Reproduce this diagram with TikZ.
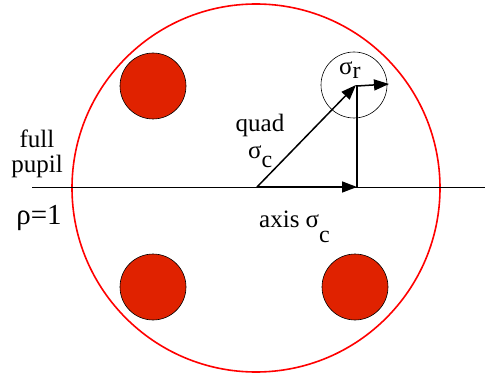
\documentclass[tikz,border=0pt]{standalone}
\usepackage{fontspec}
\setmainfont{Liberation Serif}
\newfontfamily\tms{Liberation Serif}
\usetikzlibrary{arrows.meta,positioning}

\definecolor{spotred}{HTML}{E02200}
\newcommand{\lowc}[2]{\raisebox{-#1}{\fontsize{24}{24}\selectfont #2}}

\begin{document}
\begin{tikzpicture}[
    x=1pt, y=-1pt,
    pupil/.style={circle, draw=red, line width=1.6pt, minimum size=368pt, inner sep=0pt},
    spot/.style={circle, draw=black, fill=spotred, line width=0.6pt, minimum size=66pt, inner sep=0pt},
    ring/.style={circle, draw=black, line width=0.6pt, minimum size=66pt, inner sep=0pt},
    lbl/.style={font=\tms\fontsize{25}{29}\selectfont, inner sep=0pt, align=center},
    vec/.style={line width=1.5pt, -{Triangle[length=15pt,width=11pt]}}
  ]
    \useasboundingbox (0,0) rectangle (485,377);

    % pupil and the three spots
    \node[pupil] (pupil) at (256,188) {};
    \node[spot] (spotA) at (153,86) {};
    \node[spot] (spotB) at (153,287) {};
    \node[spot] (spotC) at (355,287) {};
    \node[ring] (ring) at (354,85) {};

    % axis line
    \coordinate (lineL) at (32,187);
    \coordinate (lineR) at (485,187);
    \draw[line width=0.6pt] (lineL) -- (lineR);

    % vectors
    \coordinate (orig) at (257,187);
    \coordinate (axtip) at (357,187);
    \coordinate (qtip) at (356,85);
    \coordinate (rtip) at (389,84);
    \draw[vec] (orig) -- (axtip);
    \draw[vec] (orig) -- (qtip);
    \draw[line width=1.5pt] (axtip) -- (axtip |- qtip);
    \draw[vec] ([xshift=1pt,yshift=-1pt]qtip) -- (rtip);

    % labels
    \node[lbl] (full) at (37,154) {full\\[-4pt]pupil};
    \node[lbl, font=\tms\fontsize{29}{32}\selectfont] (rho) at (39,218) {ρ=1};
    \node[lbl] (quad) at (260,125) {quad};
    \node[lbl, anchor=base west] (sigq) at (248,159) {σ\lowc{9pt}{c}};
    \node[lbl, anchor=base west] (axis) at (259,227) {axis σ\lowc{15pt}{c}};
    \node[lbl, anchor=base west] (sigr) at (339,75) {σ\lowc{4pt}{r}};
\end{tikzpicture}
\end{document}
